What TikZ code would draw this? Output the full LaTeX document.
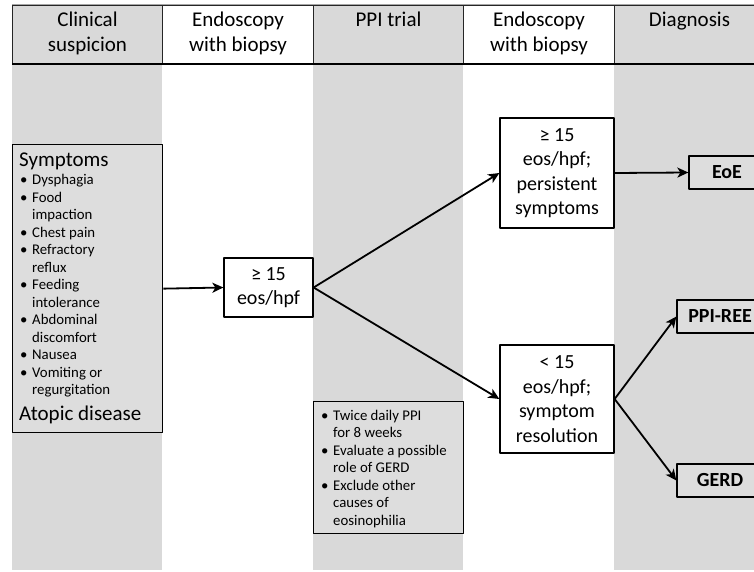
\documentclass[tikz,border=0pt]{standalone}
\usepackage{fontspec}
\setmainfont{Carlito}
\usetikzlibrary{positioning,arrows.meta}
\definecolor{colgray}{RGB}{217,217,217}
\definecolor{boxgray}{RGB}{221,221,221}
\newcommand{\bl}{\makebox[12pt][l]{\textbullet}}
\newcommand{\hg}{\hspace*{12pt}}

\begin{document}
\begin{tikzpicture}[x=1pt,y=-1pt,>={Stealth[length=11pt,width=10pt,inset=3pt]}, line join=round,
	hdr/.style={draw=black!85,line width=1,minimum height=58,anchor=north west,align=center,inner sep=0,font=\fontsize{21}{25}\selectfont},
	res/.style={draw,line width=1.3,fill=white,align=center,inner sep=0,font=\fontsize{20}{24.5}\selectfont},
	diag/.style={draw,line width=1.3,fill=boxgray,minimum height=33,inner sep=0,font=\fontsize{20}{24}\selectfont\bfseries},
	lst/.style={anchor=north west,align=left,inner sep=0,font=\fontsize{14.8}{17.5}\selectfont},
	arr/.style={->,line width=1.8}]
	\useasboundingbox (0,0) rectangle (754,572);
	\clip (0,0) rectangle (754,572);

	% grey columns
	\foreach \xa/\xb in {12/162,313/463,614/764}
		\fill[colgray] (\xa,65) rectangle (\xb,570);

	% header row
	\node[hdr,fill=colgray,minimum width=150] (h1) at (12,5) {\strut Clinical\\\strut suspicion};
	\node[hdr,fill=white,minimum width=151] (h2) at (162,5) {\strut Endoscopy\\\strut with biopsy};
	\node[hdr,fill=colgray,minimum width=150] (h3) at (313,5) {\strut PPI trial\\\strut};
	\node[hdr,fill=white,minimum width=151] (h4) at (463,5) {\strut Endoscopy\\\strut with biopsy};
	\node[hdr,fill=colgray,minimum width=150] (h5) at (614,5) {\strut Diagnosis\\\strut};
	\draw[gray!70,line width=1] (h1.north west) -- (h5.north east);
	\draw[line width=1.6] (h1.south west) -- (h5.south east);

	% symptoms
	\node[draw,line width=1.3,fill=boxgray,anchor=north west,minimum width=150,minimum height=288] (sympt) at (12,144) {};
	\node[anchor=base west,inner sep=0,font=\fontsize{21}{25}\selectfont] (symtitle) at (19,167) {Symptoms};
	\node[lst] (symlist) at (20,172.5) {\strut\bl Dysphagia\\\bl Food\\\hg impaction\\\bl Chest pain\\\bl Refractory\\\hg reflux\\\bl Feeding\\\hg intolerance\\\bl Abdominal\\\hg discomfort\\\bl Nausea\\\bl Vomiting or\\\hg regurgitation};
	\node[anchor=base west,inner sep=0,font=\fontsize{21}{25}\selectfont] (atopic) at (19,420) {Atopic disease};

	% biopsy results
	\node[res,minimum width=89,minimum height=59] (eosA) at (268.5,287.5) {≥ 15\\eos/hpf};
	\node[res,minimum width=114,minimum height=110] (eosHi) at (557,173) {≥ 15\\eos/hpf;\\persistent\\symptoms};
	\node[res,minimum width=114,minimum height=108] (eosLo) at (557,399) {< 15\\eos/hpf;\\symptom\\resolution};

	% PPI trial
	\node[draw,line width=1.3,fill=boxgray,anchor=north west,minimum width=150,minimum height=132] (ppi) at (313,401) {};
	\node[lst] (ppilist) at (321,408) {\strut\bl Twice daily PPI\\\hg for 8 weeks\\\bl Evaluate a possible\\\hg role of GERD\\\bl Exclude other\\\hg causes of\\\hg eosinophilia};

	% diagnoses
	\node[diag,minimum width=76] (eoe) at (727,172.5) {EoE};
	\node[diag,minimum width=86] (ppiree) at (720,316.5) {PPI-REE};
	\node[diag,minimum width=86] (gerd) at (720,480.5) {GERD};

	\draw[arr] (sympt.east) -- (eosA.west);
	\draw[arr] (eosA.east) -- (eosHi.west);
	\draw[arr] (eosA.east) -- (eosLo.west);
	\draw[arr] (eosHi.east) -- (eoe.west);
	\draw[arr] (eosLo.east) -- (ppiree.west);
	\draw[arr] (eosLo.east) -- (gerd.west);
\end{tikzpicture}
\end{document}
